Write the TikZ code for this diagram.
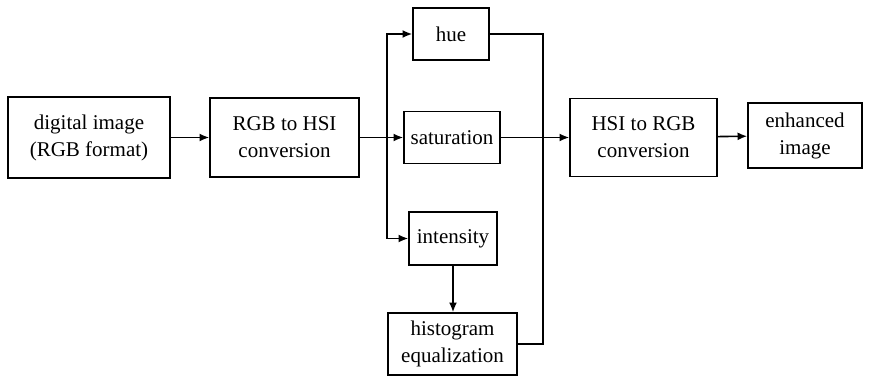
\documentclass[tikz,border=0pt]{standalone}
\usepackage{fontspec}
\setmainfont{Liberation Serif}
\usetikzlibrary{arrows.meta, positioning, calc}
\tikzset{
  every picture/.style={line width=1.6pt},
  box/.style={draw, align=center, inner sep=2pt, font=\fontsize{21}{27}\selectfont},
  arrow/.style={-{Latex[length=3.4mm, width=2.8mm]}},
}

\begin{document}
\begin{tikzpicture}[x=1pt, y=-1pt]
  \useasboundingbox (0,0) rectangle (870,377);
  % main chain
  \node[box, minimum width=162pt, minimum height=81pt] (img) at (89,137.5) {digital image\\(RGB format)};
  \node[box, minimum width=149pt, minimum height=79pt] (toHSI) at (284.5,137.5) {RGB to HSI\\conversion};
  \node[box, minimum width=147pt, minimum height=78pt] (toRGB) at (643.5,137.5) {HSI to RGB\\conversion};
  \node[box, minimum width=114pt, minimum height=65pt] (enh) at (805,135.5) {enhanced\\image};
  % the three components
  \node[box, minimum width=76pt, minimum height=52pt] (hue) at (451,34) {hue};
  \node[box, minimum width=96pt, minimum height=52pt] (sat) at (452,137.5) {saturation};
  \node[box, minimum width=88pt, minimum height=53pt] (inten) at (453,238.5) {intensity};
  \node[box, minimum width=129pt, minimum height=62pt] (hist) at (452.5,344) {histogram\\equalization};
  \coordinate (split) at (387,137.5);
  \coordinate (join) at (543,137.5);
  % connectors
  \draw[arrow] (img) -- (toHSI);
  \draw[arrow] (toHSI) -- (sat);
  \draw[arrow] (split) |- (hue);
  \draw[arrow] (split) |- (inten);
  \draw[arrow] (inten.south) -- (inten.south |- hist.north);
  \draw (hue.east) -| (join);
  \draw (hist.east) -| (join);
  \draw[arrow] (sat) -- (toRGB);
  \draw[arrow] (toRGB) -- (enh);
\end{tikzpicture}
\end{document}
